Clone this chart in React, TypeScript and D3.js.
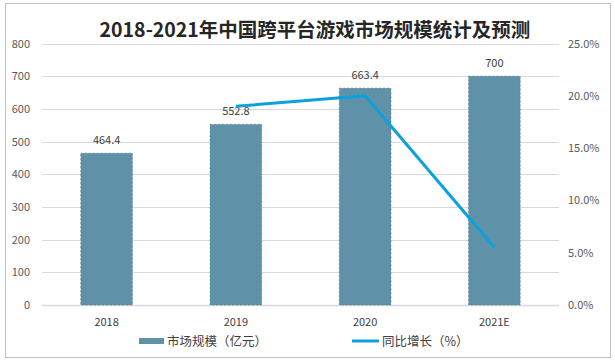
import { useEffect, useRef } from "react";
import * as d3 from "d3";

// Market size (亿元) and YoY growth
const years = ["2018", "2019", "2020", "2021E"];
const marketSize = [464.4, 552.8, 663.4, 700];
const sizeLabels = ["464.4", "552.8", "663.4", "700"];
const growthYears = ["2019", "2020", "2021E"];
const growth = [0.19, 0.2, 0.055];
const leftTicks = [0, 100, 200, 300, 400, 500, 600, 700, 800];
const rightTicks = [0, 0.05, 0.1, 0.15, 0.2, 0.25];

const W = 615;
const H = 361;
const P = { left: 42, right: 559, top: 43.5, bottom: 305 };
const BAR = "#5f92a8";
const LINE = "#0ba1dc";
const FONT = "'Noto Sans CJK SC', 'Noto Sans', sans-serif";

export default function App() {
  const svgRef = useRef<SVGSVGElement>(null);

  useEffect(() => {
    const svg = d3.select(svgRef.current!);
    svg.selectAll("*").remove();

    const x = d3
      .scaleBand<string>()
      .domain(years)
      .range([P.left, P.right])
      .paddingInner(0.6)
      .paddingOuter(0.3);
    const y = d3.scaleLinear().domain([0, 800]).range([P.bottom, P.top]);
    const y2 = d3.scaleLinear().domain([0, 0.25]).range([P.bottom, P.top]);

    // outer frame
    svg
      .append("rect")
      .attr("x", 5.5)
      .attr("y", 3.5)
      .attr("width", 605)
      .attr("height", 354)
      .attr("fill", "#fff")
      .attr("stroke", "#bfbfbf");

    svg
      .append("text")
      .attr("x", 315)
      .attr("y", 37)
      .attr("text-anchor", "middle")
      .attr("font-family", FONT)
      .attr("font-weight", 700)
      .attr("font-size", 19.5)
      .attr("fill", "#262626")
      .text("2018-2021年中国跨平台游戏市场规模统计及预测");

    // grid
    svg
      .append("g")
      .selectAll("line")
      .data(leftTicks)
      .join("line")
      .attr("x1", P.left)
      .attr("x2", P.right)
      .attr("y1", (d) => Math.round(y(d)) + 0.5)
      .attr("y2", (d) => Math.round(y(d)) + 0.5)
      .attr("stroke", "#d9d9d9")
      .attr("stroke-width", (d) => (d === 0 ? 1.5 : 1));

    // left axis
    svg
      .append("g")
      .selectAll("text")
      .data(leftTicks)
      .join("text")
      .attr("x", 30)
      .attr("y", (d) => y(d) + 4)
      .attr("text-anchor", "end")
      .attr("font-family", FONT)
      .attr("font-size", 11)
      .attr("fill", "#595959")
      .text((d) => d3.format("d")(d));

    // right axis
    svg
      .append("g")
      .selectAll("text")
      .data(rightTicks)
      .join("text")
      .attr("x", 568)
      .attr("y", (d) => y2(d) + 4)
      .attr("font-family", FONT)
      .attr("font-size", 11)
      .attr("fill", "#595959")
      .text((d) => d3.format(".1%")(d));

    // bars
    svg
      .append("g")
      .selectAll("rect")
      .data(marketSize)
      .join("rect")
      .attr("x", (_, i) => x(years[i])!)
      .attr("y", (d) => y(d))
      .attr("width", x.bandwidth())
      .attr("height", (d) => P.bottom - y(d))
      .attr("fill", BAR)
      .attr("stroke", "#4d7a8e")
      .attr("stroke-width", 0.6)
      .attr("stroke-dasharray", "2 2");

    // bar labels
    svg
      .append("g")
      .selectAll("text")
      .data(marketSize)
      .join("text")
      .attr("x", (_, i) => x(years[i])! + x.bandwidth() / 2)
      .attr("y", (d) => y(d) - 9)
      .attr("text-anchor", "middle")
      .attr("font-family", FONT)
      .attr("font-size", 11)
      .attr("fill", "#404040")
      .text((_, i) => sizeLabels[i]);

    // x labels
    svg
      .append("g")
      .selectAll("text")
      .data(years)
      .join("text")
      .attr("x", (d) => x(d)! + x.bandwidth() / 2)
      .attr("y", 326)
      .attr("text-anchor", "middle")
      .attr("font-family", FONT)
      .attr("font-size", 11)
      .attr("fill", "#404040")
      .text((d) => d);

    // growth line
    const line = d3
      .line<number>()
      .x((_, i) => x(growthYears[i])! + x.bandwidth() / 2)
      .y((d) => y2(d));
    svg
      .append("path")
      .datum(growth)
      .attr("d", line)
      .attr("fill", "none")
      .attr("stroke", LINE)
      .attr("stroke-width", 3)
      .attr("stroke-linejoin", "round");

    // legend
    const lg = svg.append("g").attr("font-family", FONT).attr("font-size", 12.5).attr("fill", "#404040");
    lg.append("rect").attr("x", 139).attr("y", 338).attr("width", 25).attr("height", 6).attr("fill", BAR);
    lg.append("text").attr("x", 167).attr("y", 346).text("市场规模（亿元）");
    lg.append("line")
      .attr("x1", 352)
      .attr("x2", 379)
      .attr("y1", 341)
      .attr("y2", 341)
      .attr("stroke", LINE)
      .attr("stroke-width", 3);
    lg.append("text").attr("x", 382).attr("y", 346).text("同比增长（%）");
  }, []);

  return (
    <svg
      ref={svgRef}
      width={W}
      height={H}
      style={{ position: "absolute", left: 0, top: 0, background: "#fff" }}
    />
  );
}
